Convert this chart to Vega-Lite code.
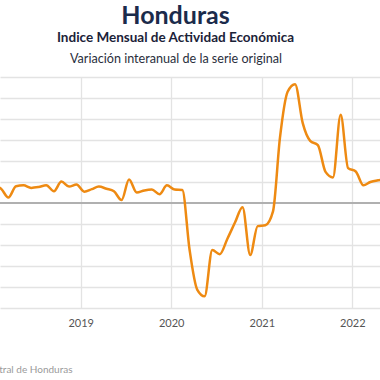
{
  "$schema": "https://vega.github.io/schema/vega-lite/v6.json",
  "autosize": "none",
  "width": 380,
  "height": 231,
  "padding": {"left": 0, "top": 77, "right": 0, "bottom": 72},
  "background": "white",
  "title": {
    "text": "Honduras",
    "subtitle": "Indice Mensual de  Actividad Económica",
    "font": "Lato",
    "fontSize": 25,
    "fontWeight": "bold",
    "color": "#1b2b4b",
    "subtitleFont": "Lato",
    "subtitleFontSize": 13.5,
    "subtitleFontWeight": "bold",
    "subtitleColor": "#1b2238",
    "anchor": "middle",
    "dx": -14.5,
    "offset": 8,
    "subtitlePadding": 2
  },
  "data": {
    "values": [
      {"date": "2018-01-15", "value": 4.3},
      {"date": "2018-02-15", "value": 3.3},
      {"date": "2018-03-15", "value": 1.3},
      {"date": "2018-04-15", "value": 4.0},
      {"date": "2018-05-15", "value": 4.2},
      {"date": "2018-06-15", "value": 3.6},
      {"date": "2018-07-15", "value": 3.8},
      {"date": "2018-08-15", "value": 4.2},
      {"date": "2018-09-15", "value": 2.8},
      {"date": "2018-10-15", "value": 5.1},
      {"date": "2018-11-15", "value": 3.9},
      {"date": "2018-12-15", "value": 4.4},
      {"date": "2019-01-15", "value": 2.7},
      {"date": "2019-02-15", "value": 3.3},
      {"date": "2019-03-15", "value": 3.9},
      {"date": "2019-04-15", "value": 3.4},
      {"date": "2019-05-15", "value": 2.8},
      {"date": "2019-06-15", "value": 0.7},
      {"date": "2019-07-15", "value": 5.6},
      {"date": "2019-08-15", "value": 2.5},
      {"date": "2019-09-15", "value": 3.0},
      {"date": "2019-10-15", "value": 3.2},
      {"date": "2019-11-15", "value": 2.1},
      {"date": "2019-12-15", "value": 4.2},
      {"date": "2020-01-15", "value": 3.2},
      {"date": "2020-02-15", "value": 3.1},
      {"date": "2020-03-15", "value": -11.0},
      {"date": "2020-04-15", "value": -20.6},
      {"date": "2020-05-15", "value": -22.2},
      {"date": "2020-06-15", "value": -11.2},
      {"date": "2020-07-15", "value": -12.2},
      {"date": "2020-08-15", "value": -8.5},
      {"date": "2020-09-15", "value": -4.6},
      {"date": "2020-10-15", "value": -1.0},
      {"date": "2020-11-15", "value": -12.4},
      {"date": "2020-12-15", "value": -5.5},
      {"date": "2021-01-15", "value": -5.3},
      {"date": "2021-02-15", "value": -2.0},
      {"date": "2021-03-15", "value": 15.5},
      {"date": "2021-04-15", "value": 26.5},
      {"date": "2021-05-15", "value": 28.3},
      {"date": "2021-06-15", "value": 19.0},
      {"date": "2021-07-15", "value": 14.8},
      {"date": "2021-08-15", "value": 13.8},
      {"date": "2021-09-15", "value": 7.4},
      {"date": "2021-10-15", "value": 6.1},
      {"date": "2021-11-15", "value": 21.0},
      {"date": "2021-12-15", "value": 8.3},
      {"date": "2022-01-15", "value": 7.5},
      {"date": "2022-02-15", "value": 4.2},
      {"date": "2022-03-15", "value": 5.0},
      {"date": "2022-04-15", "value": 5.4},
      {"date": "2022-05-15", "value": 5.6}
    ]
  },
  "layer": [
    {
      "mark": {"type": "rule", "color": "#b0b0b0", "strokeWidth": 2},
      "encoding": {
        "y": {
          "datum": 0,
          "type": "quantitative",
          "scale": {"domain": [-25, 30], "nice": false, "zero": false},
          "axis": {
            "values": [-25, -20, -15, -10, -5, 5, 10, 15, 20, 25, 30],
            "labels": false,
            "ticks": false,
            "domain": false,
            "grid": true,
            "gridColor": "#e3e3e3",
            "gridWidth": 1.3,
            "title": null
          }
        }
      }
    },
    {
      "mark": {"type": "line", "color": "#ee8a12", "strokeWidth": 2.5, "interpolate": "monotone", "clip": true},
      "encoding": {
        "x": {
          "field": "date",
          "type": "temporal",
          "scale": {"type": "utc", "domain": [{"year": 2018, "month": 2, "date": 9, "hours": 6, "utc": true}, {"year": 2022, "month": 4, "date": 22, "hours": 19, "utc": true}]},
          "axis": {
            "orient": "bottom",
            "format": "%Y",
            "tickCount": {"interval": "year", "step": 1},
            "grid": true,
            "gridColor": "#e3e3e3",
            "gridWidth": 1.3,
            "ticks": false,
            "domain": false,
            "labelFont": "Lato",
            "labelFontSize": 11,
            "labelColor": "#555555",
            "labelPadding": 9,
            "labelDx": 3.5,
            "title": "Fuente: Banco Central de Honduras",
            "titleFont": "Lato",
            "titleFontSize": 10,
            "titleFontWeight": "normal",
            "titleColor": "#9a9a9a",
            "titleAlign": "right",
            "titleAnchor": "start",
            "titleBaseline": "alphabetic",
            "titleX": 72,
            "titleY": 64
          }
        },
        "y": {
          "field": "value",
          "type": "quantitative",
          "axis": {
            "values": [-25, -20, -15, -10, -5, 5, 10, 15, 20, 25, 30],
            "labels": false,
            "ticks": false,
            "domain": false,
            "grid": true,
            "gridColor": "#e3e3e3",
            "gridWidth": 1.3,
            "title": null
          }
        }
      }
    },
    {
      "mark": {"type": "line", "strokeOpacity": 0, "clip": true},
      "encoding": {
        "x": {
          "field": "date",
          "type": "temporal",
          "axis": {
            "orient": "top",
            "labels": false,
            "ticks": false,
            "domain": false,
            "grid": false,
            "title": "Variación interanual de la serie original",
            "titleFont": "Lato",
            "titleFontSize": 12.6,
            "titleFontWeight": "normal",
            "titleColor": "#2a2f3d",
            "titleX": 175.5,
            "titleAlign": "center",
            "titlePadding": 12
          }
        },
        "y": {
          "field": "value",
          "type": "quantitative",
          "axis": {
            "values": [-25, -20, -15, -10, -5, 5, 10, 15, 20, 25, 30],
            "labels": false,
            "ticks": false,
            "domain": false,
            "grid": true,
            "gridColor": "#e3e3e3",
            "gridWidth": 1.3,
            "title": null
          }
        }
      }
    }
  ],
  "config": {"view": {"stroke": null}}
}
